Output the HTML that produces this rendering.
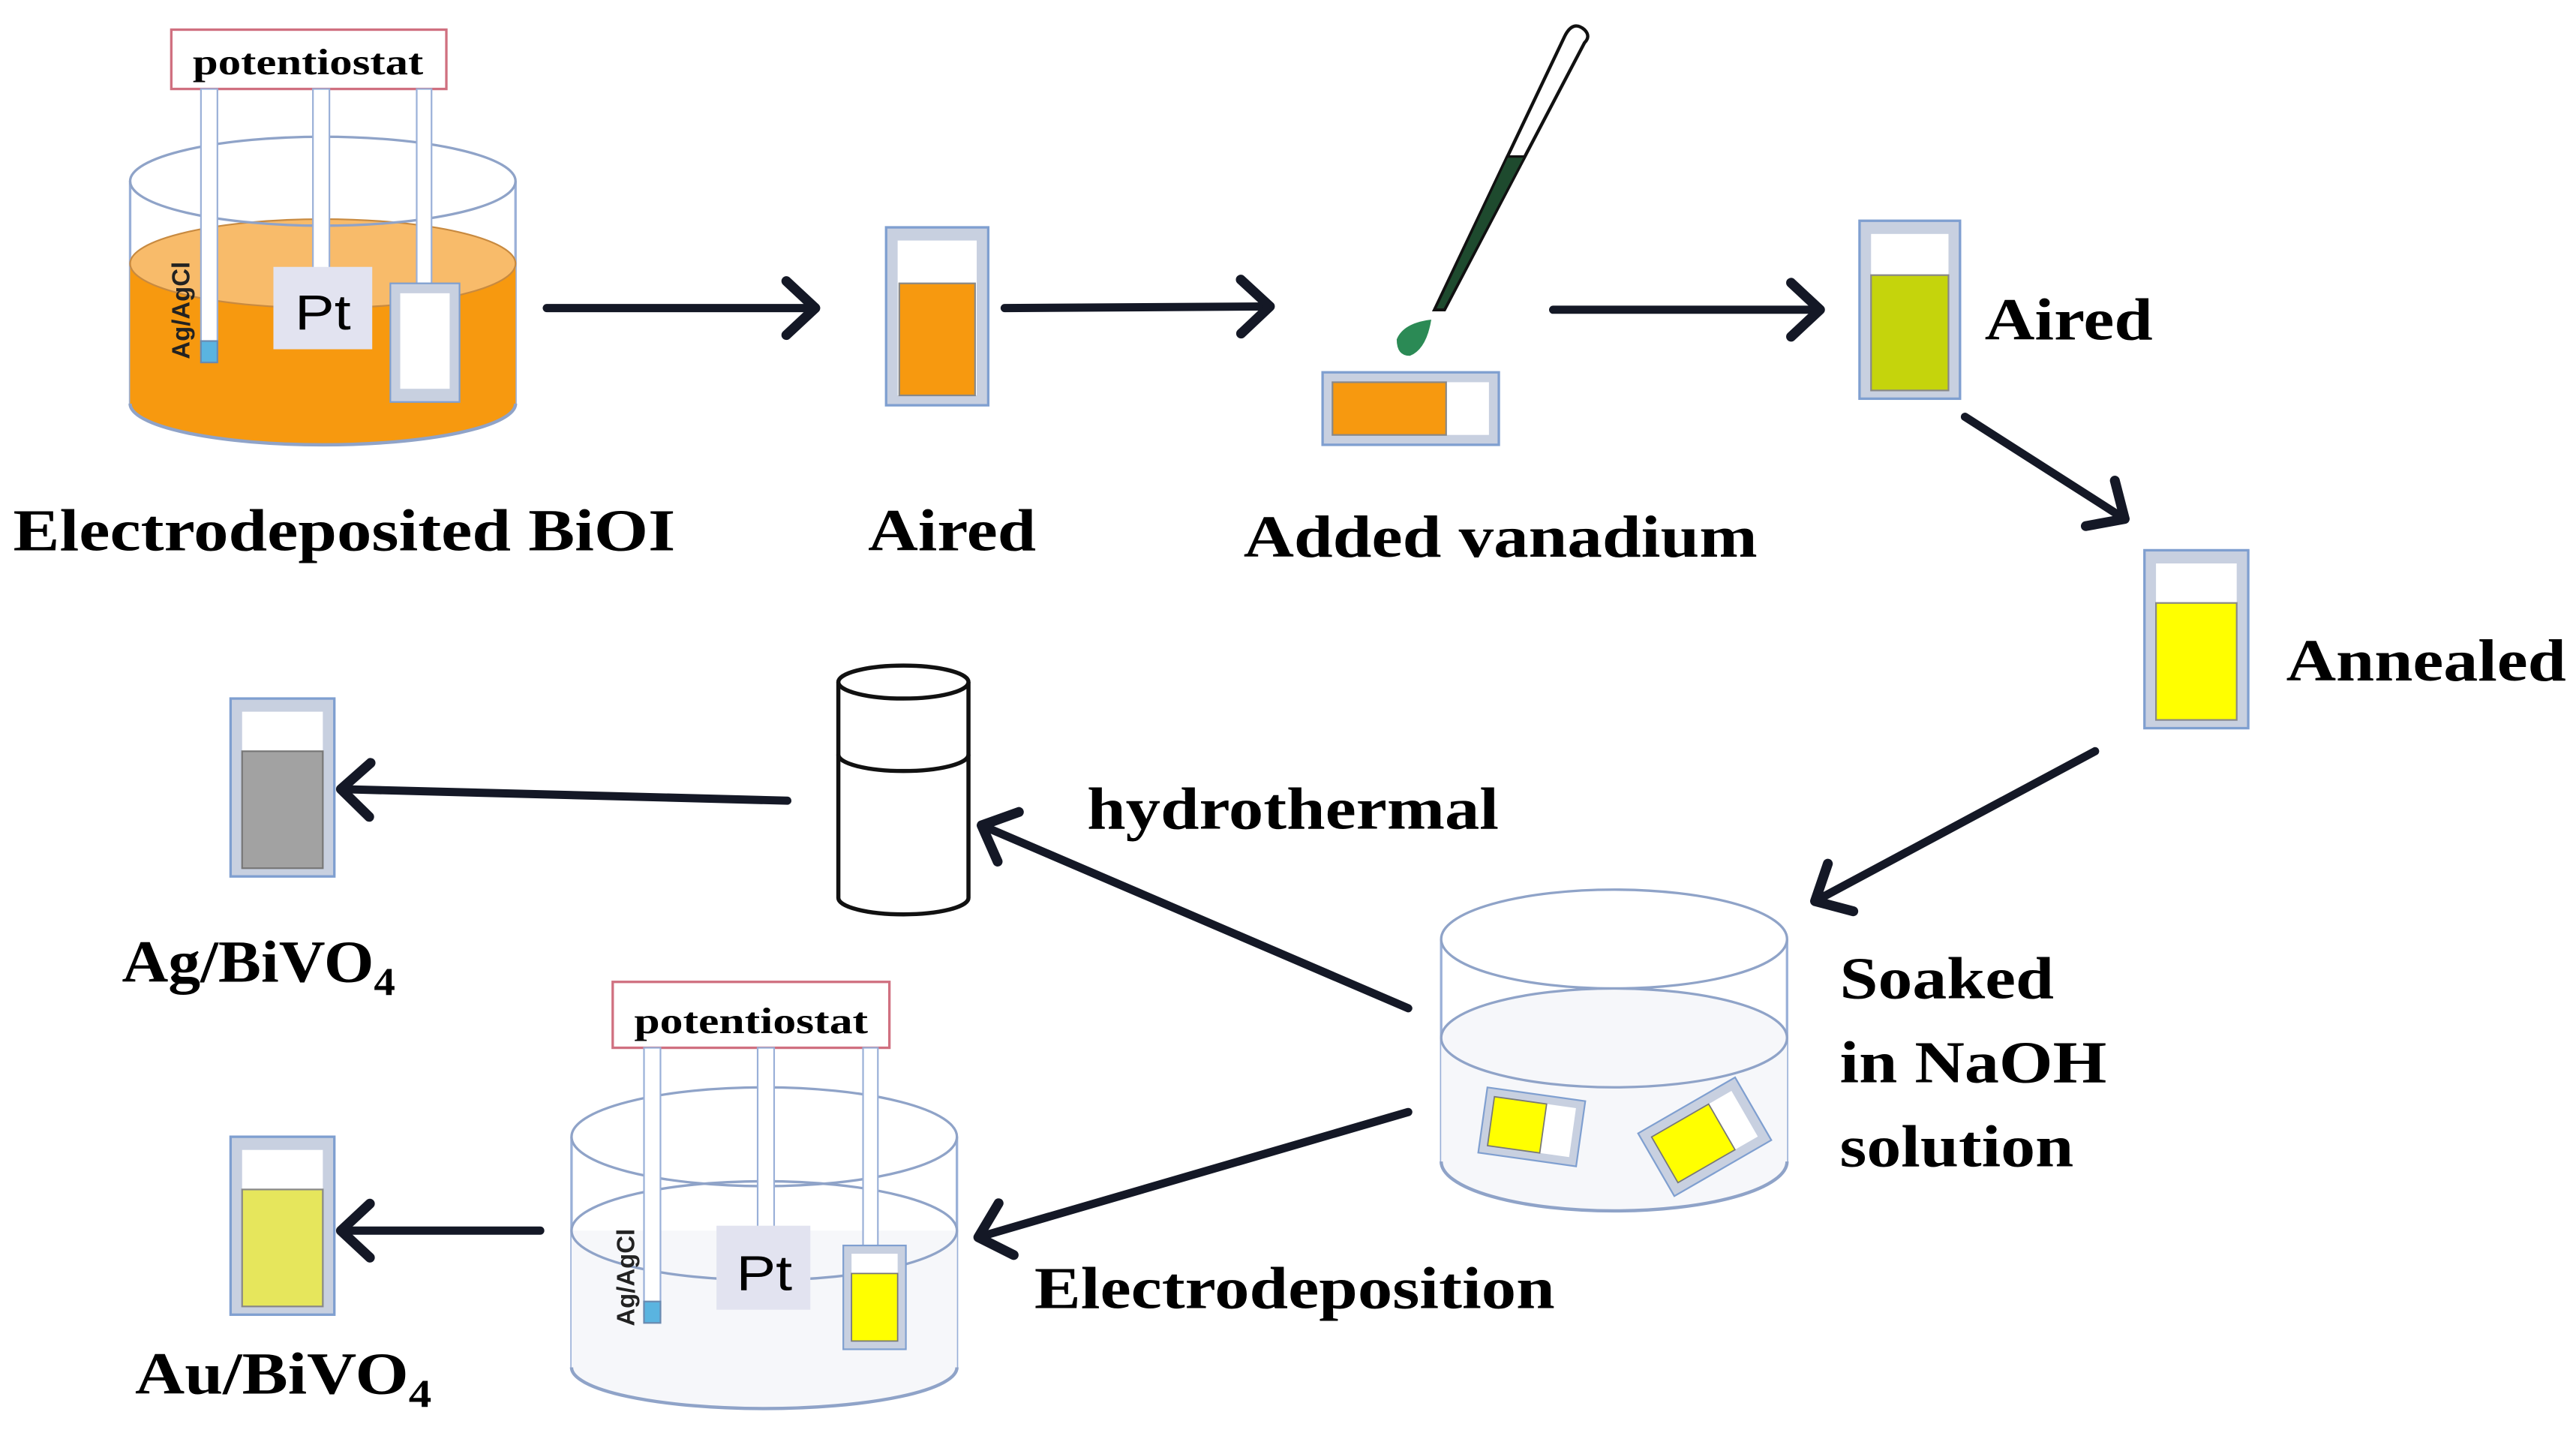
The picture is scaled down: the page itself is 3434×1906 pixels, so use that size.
<!DOCTYPE html>
<html><head><style>html,body{margin:0;padding:0;background:#fff}svg{display:block}</style></head><body>
<svg id="s" width="3434" height="1906" viewBox="0 0 1564 868" preserveAspectRatio="none" xmlns="http://www.w3.org/2000/svg" font-family="'Liberation Serif',serif" font-weight="bold">
<g id="arrows" stroke="#141826" stroke-width="5" fill="none" stroke-linecap="round" stroke-linejoin="round">
<line x1="332" y1="187" x2="495" y2="187"/>
<line x1="610" y1="187" x2="771" y2="186"/>
<line x1="943" y1="188" x2="1105" y2="188"/>
<line x1="1193" y1="253" x2="1290" y2="315"/>
<line x1="1272" y1="456" x2="1102" y2="547"/>
<line x1="855" y1="612" x2="596" y2="501"/>
<line x1="478" y1="486" x2="207" y2="479"/>
<line x1="855" y1="675" x2="594" y2="751"/>
<line x1="328" y1="747" x2="207" y2="747"/>
</g>

<!-- top-left beaker -->
<path d="M79 110 V245 A117 25 0 0 0 313 245 V110" fill="#fff" stroke="#9ab0d8" stroke-width="1.5"/>
<path d="M79 160 V245 A117 25 0 0 0 313 245 V160 Z" fill="#f7990f"/>
<ellipse cx="196" cy="160" rx="117" ry="27" fill="#f8bb6a" stroke="#c88a40" stroke-width="1"/>
<ellipse cx="196" cy="110" rx="117" ry="27" fill="none" stroke="#8fa3c8" stroke-width="1.5"/>
<path d="M79 245 A117 25 0 0 0 313 245" fill="none" stroke="#8fa3c8" stroke-width="2"/>
<rect x="104" y="18" width="167" height="36" fill="#fff" stroke="#d07080" stroke-width="1.5"/>
<text x="187" y="45" text-anchor="middle" font-size="22" textLength="140" lengthAdjust="spacingAndGlyphs">potentiostat</text>
<rect x="122" y="54" width="10" height="162" fill="#fff" stroke="#9ab0d8"/>
<rect x="122" y="207" width="10" height="13" fill="#5ab4e0" stroke="#6a8ab0"/>
<rect x="190" y="54" width="10" height="112" fill="#fff" stroke="#9ab0d8"/>
<rect x="166" y="162" width="60" height="50" fill="#e2e3f0"/>
<text x="196" y="200" text-anchor="middle" font-family="'Liberation Sans',sans-serif" font-size="30" font-weight="normal" textLength="34" lengthAdjust="spacingAndGlyphs">Pt</text>
<rect x="253" y="54" width="9" height="118" fill="#fff" stroke="#9ab0d8"/>
<rect x="237" y="172" width="42" height="72" fill="#c8d0e0" stroke="#7f9fd0"/>
<rect x="243" y="178" width="30" height="58" fill="#fff"/>
<text transform="translate(115,218) rotate(-90)" font-family="'Liberation Sans',sans-serif" font-size="15" fill="#222">Ag/AgCl</text>
<text x="8" y="334" font-size="36" textLength="402" lengthAdjust="spacingAndGlyphs">Electrodeposited BiOI</text>

<!-- cuvette 1 -->
<rect x="538" y="138" width="62" height="108" fill="#c8d0e0" stroke="#7f9fd0" stroke-width="1.5"/>
<rect x="545" y="146" width="48" height="94" fill="#fff"/>
<rect x="546" y="172" width="46" height="68" fill="#f7990f" stroke="#888" stroke-width="1"/>
<text x="578" y="334" text-anchor="middle" font-size="36" textLength="102" lengthAdjust="spacingAndGlyphs">Aired</text>

<!-- pipette -->
<path d="M950 22 Q955 12 962 18 Q966 22 962 26 L877 188 L871 188 Z" fill="#fff" stroke="#111" stroke-width="2"/>
<path d="M915 95 L926 95 L877 188 L871 188 Z" fill="#1e4a2e" stroke="#111" stroke-width="1.5"/>
<path d="M869 194 Q852 196 848 206 Q848 216 856 216 Q866 212 869 194 Z" fill="#2b8a55"/>
<rect x="803" y="226" width="107" height="44" fill="#c8d0e0" stroke="#7f9fd0" stroke-width="1.5"/>
<rect x="809" y="232" width="95" height="32" fill="#fff"/>
<rect x="809" y="232" width="69" height="32" fill="#f7990f" stroke="#888" stroke-width="1"/>
<text x="911" y="338" text-anchor="middle" font-size="36" textLength="312" lengthAdjust="spacingAndGlyphs">Added vanadium</text>

<!-- cuvette 2 -->
<rect x="1129" y="134" width="61" height="108" fill="#c8d0e0" stroke="#7f9fd0" stroke-width="1.5"/>
<rect x="1136" y="142" width="47" height="94" fill="#fff"/>
<rect x="1136" y="167" width="47" height="70" fill="#c5d40c" stroke="#888" stroke-width="1"/>
<text x="1205" y="206" font-size="36" textLength="102" lengthAdjust="spacingAndGlyphs">Aired</text>

<!-- cuvette 3 -->
<rect x="1302" y="334" width="63" height="108" fill="#c8d0e0" stroke="#7f9fd0" stroke-width="1.5"/>
<rect x="1309" y="342" width="49" height="94" fill="#fff"/>
<rect x="1309" y="366" width="49" height="71" fill="#ffff00" stroke="#888" stroke-width="1"/>
<text x="1388" y="413" font-size="36" textLength="170" lengthAdjust="spacingAndGlyphs">Annealed</text>

<!-- soaking beaker -->
<path d="M875 570 V705 A105 30 0 0 0 1085 705 V570" fill="#fff" stroke="#9ab0d8" stroke-width="1.5"/>
<ellipse cx="980" cy="570" rx="105" ry="30" fill="#fff" stroke="#8fa3c8" stroke-width="1.5"/>
<path d="M875 630 V705 A105 30 0 0 0 1085 705 V630 Z" fill="#f6f7fa"/>
<ellipse cx="980" cy="630" rx="105" ry="30" fill="#f6f7fa" stroke="#8fa3c8" stroke-width="1.5"/>
<path d="M875 705 A105 30 0 0 0 1085 705" fill="none" stroke="#8fa3c8" stroke-width="2"/>
<g transform="translate(930,684) rotate(8)">
<rect x="-30" y="-20" width="60" height="40" fill="#c8d0e0" stroke="#7f9fd0"/>
<rect x="-25" y="-15" width="50" height="30" fill="#fff"/>
<rect x="-25" y="-15" width="32" height="30" fill="#ffff00" stroke="#777" stroke-width="0.8"/>
</g>
<g transform="translate(1035,690) rotate(-30)">
<rect x="-34" y="-22" width="68" height="44" fill="#c8d0e0" stroke="#7f9fd0"/>
<rect x="-28" y="-16" width="56" height="32" fill="#fff"/>
<rect x="-28" y="-16" width="40" height="32" fill="#ffff00" stroke="#777" stroke-width="0.8"/>
</g>
<text x="1117" y="606" font-size="36" textLength="130" lengthAdjust="spacingAndGlyphs">Soaked</text>
<text x="1117" y="657" font-size="36" textLength="162" lengthAdjust="spacingAndGlyphs">in NaOH</text>
<text x="1117" y="708" font-size="36" textLength="142" lengthAdjust="spacingAndGlyphs">solution</text>

<!-- hydrothermal can -->
<path d="M509 414 V545 A39.5 10 0 0 0 588 545 V414" fill="#fff" stroke="#111" stroke-width="2.5"/>
<ellipse cx="548.5" cy="414" rx="39.5" ry="10" fill="#fff" stroke="#111" stroke-width="2.5"/>
<path d="M509 458 A39.5 10 0 0 0 588 458" fill="none" stroke="#111" stroke-width="2.5"/>
<text x="660" y="503" font-size="36" textLength="250" lengthAdjust="spacingAndGlyphs">hydrothermal</text>

<!-- Ag cuvette -->
<rect x="140" y="424" width="63" height="108" fill="#c8d0e0" stroke="#7f9fd0" stroke-width="1.5"/>
<rect x="147" y="432" width="49" height="94" fill="#fff"/>
<rect x="147" y="456" width="49" height="71" fill="#a2a2a2" stroke="#777" stroke-width="1"/>
<text x="74" y="596" font-size="36" textLength="166" lengthAdjust="spacingAndGlyphs">Ag/BiVO<tspan font-size="24" dy="8">4</tspan></text>

<!-- bottom beaker -->
<path d="M347 690 V830 A117 25 0 0 0 581 830 V690" fill="#fff" stroke="#9ab0d8" stroke-width="1.5"/>
<path d="M347 747 V830 A117 25 0 0 0 581 830 V747 Z" fill="#f6f7fa"/>
<ellipse cx="464" cy="690" rx="117" ry="30" fill="none" stroke="#8fa3c8" stroke-width="1.5"/>
<ellipse cx="464" cy="747" rx="117" ry="30" fill="none" stroke="#8fa3c8" stroke-width="1.5"/>
<path d="M347 830 A117 25 0 0 0 581 830" fill="none" stroke="#8fa3c8" stroke-width="2"/>
<rect x="372" y="596" width="168" height="40" fill="#fff" stroke="#d07080" stroke-width="1.5"/>
<text x="456" y="627" text-anchor="middle" font-size="22" textLength="142" lengthAdjust="spacingAndGlyphs">potentiostat</text>
<rect x="391" y="636" width="10" height="163" fill="#fff" stroke="#9ab0d8"/>
<rect x="391" y="790" width="10" height="13" fill="#5ab4e0" stroke="#6a8ab0"/>
<rect x="460" y="636" width="10" height="110" fill="#fff" stroke="#9ab0d8"/>
<rect x="435" y="744" width="57" height="51" fill="#e2e3f0"/>
<text x="464" y="783" text-anchor="middle" font-family="'Liberation Sans',sans-serif" font-size="30" font-weight="normal" textLength="34" lengthAdjust="spacingAndGlyphs">Pt</text>
<rect x="524" y="636" width="9" height="120" fill="#fff" stroke="#9ab0d8"/>
<rect x="512" y="756" width="38" height="63" fill="#c8d0e0" stroke="#7f9fd0"/>
<rect x="517" y="761" width="28" height="53" fill="#fff"/>
<rect x="517" y="773" width="28" height="41" fill="#ffff00" stroke="#777" stroke-width="0.8"/>
<text transform="translate(385,805) rotate(-90)" font-family="'Liberation Sans',sans-serif" font-size="15" fill="#222">Ag/AgCl</text>
<text x="628" y="794" font-size="36" textLength="316" lengthAdjust="spacingAndGlyphs">Electrodeposition</text>

<!-- Au cuvette -->
<rect x="140" y="690" width="63" height="108" fill="#c8d0e0" stroke="#7f9fd0" stroke-width="1.5"/>
<rect x="147" y="698" width="49" height="94" fill="#fff"/>
<rect x="147" y="722" width="49" height="71" fill="#e6e65c" stroke="#888" stroke-width="1"/>
<text x="82" y="846" font-size="36" textLength="180" lengthAdjust="spacingAndGlyphs">Au/BiVO<tspan font-size="24" dy="8">4</tspan></text>
</svg>
<script>
(function(){
var g=document.getElementById('arrows');
var ls=g.querySelectorAll('line');
var NS='http://www.w3.org/2000/svg';
for(var i=0;i<ls.length;i++){
var l=ls[i];
var x1=+l.getAttribute('x1'),y1=+l.getAttribute('y1'),x2=+l.getAttribute('x2'),y2=+l.getAttribute('y2');
var a=Math.atan2(y2-y1,x2-x1),L=24,s=0.75;
var p1=[x2-L*Math.cos(a-s),y2-L*Math.sin(a-s)],p2=[x2-L*Math.cos(a+s),y2-L*Math.sin(a+s)];
var pl=document.createElementNS(NS,'polyline');
pl.setAttribute('points',p1[0]+','+p1[1]+' '+x2+','+y2+' '+p2[0]+','+p2[1]);
pl.setAttribute('stroke-width','6');
g.appendChild(pl);
}
})();
</script>
</body></html>
